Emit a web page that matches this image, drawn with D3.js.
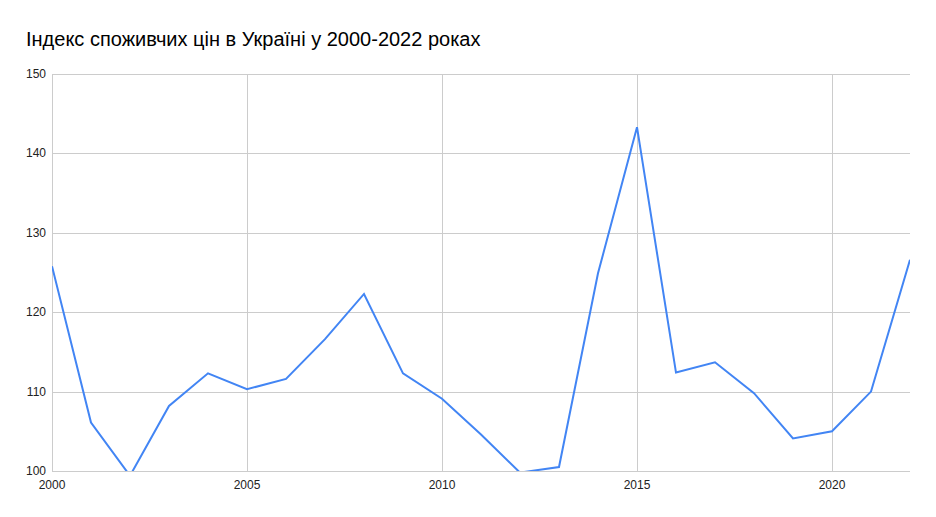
<!DOCTYPE html>
<html>
<head>
<meta charset="utf-8">
<script src="https://cdn.jsdelivr.net/npm/d3@7"></script>
<style>
  body { margin: 0; background: #fff; }
  svg { display: block; font-family: "Liberation Sans", Arial, sans-serif; }
</style>
</head>
<body>
<div id="chart"></div>
<script>
/* Data */
var years = [2000, 2001, 2002, 2003, 2004, 2005, 2006, 2007, 2008, 2009, 2010, 2011,
             2012, 2013, 2014, 2015, 2016, 2017, 2018, 2019, 2020, 2021, 2022];
var cpi = [125.8, 106.1, 99.4, 108.2, 112.3, 110.3, 111.6, 116.6, 122.3, 112.3, 109.1, 104.6,
           99.8, 100.5, 124.9, 143.3, 112.4, 113.7, 109.8, 104.1, 105.0, 110.0, 126.6];
var xTicks = [2000, 2005, 2010, 2015, 2020];
var yTicks = [100, 110, 120, 130, 140, 150];
var title = "Індекс споживчих цін в Україні у 2000-2022 роках";

var data = years.map(function(y, i) { return { year: y, value: cpi[i] }; });

/* Layout */
var W = 936, H = 517,
    margin = { top: 74, right: 26, bottom: 46, left: 52 },
    width = W - margin.left - margin.right,
    height = H - margin.top - margin.bottom;

var svg = d3.select("#chart").append("svg")
    .attr("width", W)
    .attr("height", H);

svg.append("text")
    .attr("x", 26)
    .attr("y", 46)
    .attr("font-size", 20)
    .attr("fill", "#000")
    .text(title);

var g = svg.append("g")
    .attr("transform", "translate(" + margin.left + "," + margin.top + ")");

var x = d3.scaleLinear().domain([2000, 2022]).range([0, width]);
var y = d3.scaleLinear().domain([100, 150]).range([height, 0]);

/* Grid */
g.append("g").selectAll("line")
    .data(yTicks)
    .enter().append("line")
    .attr("x1", 0).attr("x2", width)
    .attr("y1", function(d) { return Math.round(y(d)) + 0.5; })
    .attr("y2", function(d) { return Math.round(y(d)) + 0.5; })
    .attr("stroke", "#cccccc");

g.append("g").selectAll("line")
    .data(xTicks)
    .enter().append("line")
    .attr("x1", function(d) { return Math.round(x(d)) + 0.5; })
    .attr("x2", function(d) { return Math.round(x(d)) + 0.5; })
    .attr("y1", 0).attr("y2", height)
    .attr("stroke", "#cccccc");

/* Axis labels */
g.append("g").selectAll("text")
    .data(yTicks)
    .enter().append("text")
    .attr("x", -6)
    .attr("y", function(d) { return y(d) + 4; })
    .attr("text-anchor", "end")
    .attr("font-size", 12)
    .attr("fill", "#222")
    .text(function(d) { return d; });

g.append("g").selectAll("text")
    .data(xTicks)
    .enter().append("text")
    .attr("x", function(d) { return x(d); })
    .attr("y", height + 18)
    .attr("text-anchor", "middle")
    .attr("font-size", 12)
    .attr("fill", "#222")
    .text(function(d) { return d; });

/* Line, clipped to the plot */
g.append("clipPath").attr("id", "clip")
    .append("rect").attr("width", width).attr("height", height);

var line = d3.line()
    .x(function(d) { return x(d.year); })
    .y(function(d) { return y(d.value); });

g.append("path")
    .datum(data)
    .attr("clip-path", "url(#clip)")
    .attr("fill", "none")
    .attr("stroke", "#4285f4")
    .attr("stroke-width", 2)
    .attr("d", line);
</script>
</body>
</html>
